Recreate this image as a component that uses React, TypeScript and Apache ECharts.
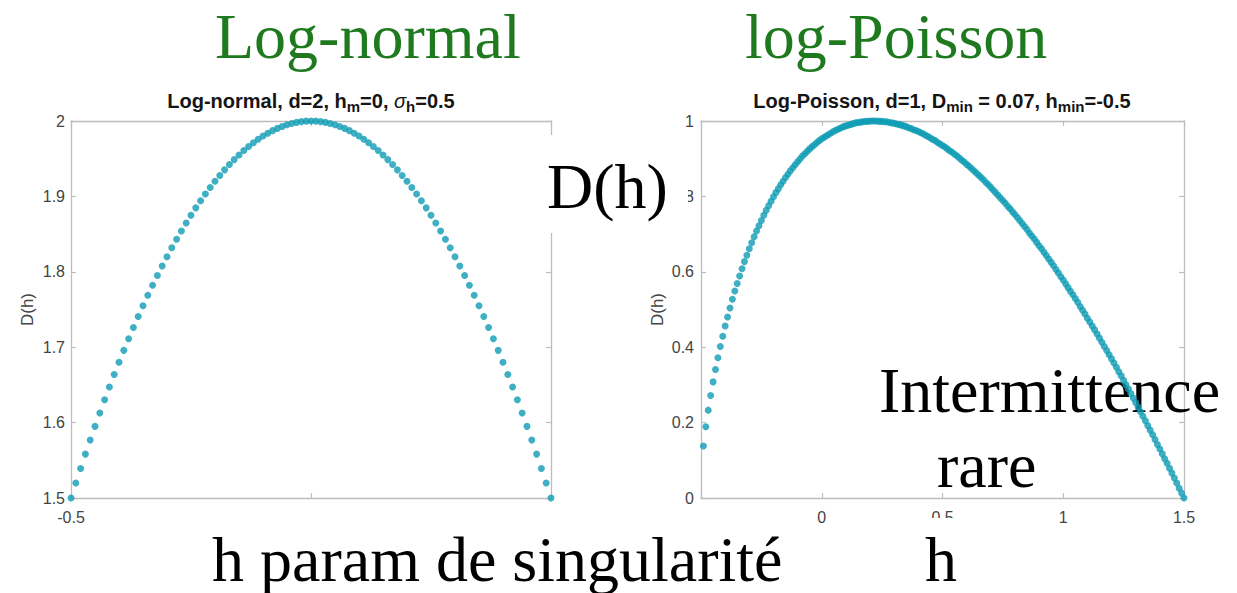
import React, { useEffect, useRef } from "react";
import * as echarts from "echarts";

// Log-normal singularity spectrum, d = 2, h_m = 0, sigma_h = 0.5
const hLogNormal = [
  -0.5, -0.49, -0.48, -0.47, -0.46, -0.45, -0.44, -0.43, -0.42, -0.41,
  -0.4, -0.39, -0.38, -0.37, -0.36, -0.35, -0.34, -0.33, -0.32, -0.31,
  -0.3, -0.29, -0.28, -0.27, -0.26, -0.25, -0.24, -0.23, -0.22, -0.21,
  -0.2, -0.19, -0.18, -0.17, -0.16, -0.15, -0.14, -0.13, -0.12, -0.11,
  -0.1, -0.09, -0.08, -0.07, -0.06, -0.05, -0.04, -0.03, -0.02, -0.01,
  0, 0.01, 0.02, 0.03, 0.04, 0.05, 0.06, 0.07, 0.08, 0.09,
  0.1, 0.11, 0.12, 0.13, 0.14, 0.15, 0.16, 0.17, 0.18, 0.19,
  0.2, 0.21, 0.22, 0.23, 0.24, 0.25, 0.26, 0.27, 0.28, 0.29,
  0.3, 0.31, 0.32, 0.33, 0.34, 0.35, 0.36, 0.37, 0.38, 0.39,
  0.4, 0.41, 0.42, 0.43, 0.44, 0.45, 0.46, 0.47, 0.48, 0.49,
  0.5,
];
const dLogNormal = [
  1.5, 1.5198, 1.5392, 1.5582, 1.5768, 1.595, 1.6128, 1.6302, 1.6472, 1.6638,
  1.68, 1.6958, 1.7112, 1.7262, 1.7408, 1.755, 1.7688, 1.7822, 1.7952, 1.8078,
  1.82, 1.8318, 1.8432, 1.8542, 1.8648, 1.875, 1.8848, 1.8942, 1.9032, 1.9118,
  1.92, 1.9278, 1.9352, 1.9422, 1.9488, 1.955, 1.9608, 1.9662, 1.9712, 1.9758,
  1.98, 1.9838, 1.9872, 1.9902, 1.9928, 1.995, 1.9968, 1.9982, 1.9992, 1.9998,
  2, 1.9998, 1.9992, 1.9982, 1.9968, 1.995, 1.9928, 1.9902, 1.9872, 1.9838,
  1.98, 1.9758, 1.9712, 1.9662, 1.9608, 1.955, 1.9488, 1.9422, 1.9352, 1.9278,
  1.92, 1.9118, 1.9032, 1.8942, 1.8848, 1.875, 1.8648, 1.8542, 1.8432, 1.8318,
  1.82, 1.8078, 1.7952, 1.7822, 1.7688, 1.755, 1.7408, 1.7262, 1.7112, 1.6958,
  1.68, 1.6638, 1.6472, 1.6302, 1.6128, 1.595, 1.5768, 1.5582, 1.5392, 1.5198,
  1.5,
];

// Log-Poisson singularity spectrum, d = 1, D_min = 0.07, h_min = -0.5
const hLogPoisson = [
  -0.49, -0.48, -0.47, -0.46, -0.45, -0.44, -0.43, -0.42, -0.41, -0.4,
  -0.39, -0.38, -0.37, -0.36, -0.35, -0.34, -0.33, -0.32, -0.31, -0.3,
  -0.29, -0.28, -0.27, -0.26, -0.25, -0.24, -0.23, -0.22, -0.21, -0.2,
  -0.19, -0.18, -0.17, -0.16, -0.15, -0.14, -0.13, -0.12, -0.11, -0.1,
  -0.09, -0.08, -0.07, -0.06, -0.05, -0.04, -0.03, -0.02, -0.01, 0,
  0.01, 0.02, 0.03, 0.04, 0.05, 0.06, 0.07, 0.08, 0.09, 0.1,
  0.11, 0.12, 0.13, 0.14, 0.15, 0.16, 0.17, 0.18, 0.19, 0.2,
  0.21, 0.22, 0.23, 0.24, 0.25, 0.26, 0.27, 0.28, 0.29, 0.3,
  0.31, 0.32, 0.33, 0.34, 0.35, 0.36, 0.37, 0.38, 0.39, 0.4,
  0.41, 0.42, 0.43, 0.44, 0.45, 0.46, 0.47, 0.48, 0.49, 0.5,
  0.51, 0.52, 0.53, 0.54, 0.55, 0.56, 0.57, 0.58, 0.59, 0.6,
  0.61, 0.62, 0.63, 0.64, 0.65, 0.66, 0.67, 0.68, 0.69, 0.7,
  0.71, 0.72, 0.73, 0.74, 0.75, 0.76, 0.77, 0.78, 0.79, 0.8,
  0.81, 0.82, 0.83, 0.84, 0.85, 0.86, 0.87, 0.88, 0.89, 0.9,
  0.91, 0.92, 0.93, 0.94, 0.95, 0.96, 0.97, 0.98, 0.99, 1,
  1.01, 1.02, 1.03, 1.04, 1.05, 1.06, 1.07, 1.08, 1.09, 1.1,
  1.11, 1.12, 1.13, 1.14, 1.15, 1.16, 1.17, 1.18, 1.19, 1.2,
  1.21, 1.22, 1.23, 1.24, 1.25, 1.26, 1.27, 1.28, 1.29, 1.3,
  1.31, 1.32, 1.33, 1.34, 1.35, 1.36, 1.37, 1.38, 1.39, 1.4,
  1.41, 1.42, 1.43, 1.44, 1.45, 1.46, 1.47, 1.48, 1.49, 1.5,
];
const dLogPoisson = [
  0.138, 0.189, 0.233, 0.272, 0.308, 0.341, 0.372, 0.402, 0.429, 0.456,
  0.48, 0.504, 0.527, 0.549, 0.569, 0.589, 0.608, 0.627, 0.644, 0.661,
  0.677, 0.693, 0.708, 0.722, 0.736, 0.75, 0.763, 0.775, 0.787, 0.799,
  0.81, 0.82, 0.831, 0.84, 0.85, 0.859, 0.868, 0.876, 0.884, 0.892,
  0.899, 0.907, 0.913, 0.92, 0.926, 0.932, 0.937, 0.943, 0.948, 0.953,
  0.957, 0.961, 0.965, 0.969, 0.973, 0.976, 0.979, 0.982, 0.985, 0.987,
  0.989, 0.991, 0.993, 0.995, 0.996, 0.997, 0.998, 0.999, 0.999, 1.0,
  1.0, 1.0, 1.0, 0.999, 0.999, 0.998, 0.998, 0.996, 0.995, 0.994,
  0.992, 0.991, 0.989, 0.987, 0.985, 0.982, 0.98, 0.977, 0.975, 0.972,
  0.969, 0.966, 0.962, 0.959, 0.955, 0.951, 0.948, 0.943, 0.939, 0.935,
  0.931, 0.926, 0.921, 0.917, 0.912, 0.907, 0.902, 0.896, 0.891, 0.885,
  0.88, 0.874, 0.868, 0.862, 0.856, 0.85, 0.844, 0.837, 0.831, 0.824,
  0.817, 0.81, 0.803, 0.796, 0.789, 0.782, 0.774, 0.767, 0.759, 0.752,
  0.744, 0.736, 0.728, 0.72, 0.712, 0.703, 0.695, 0.687, 0.678, 0.669,
  0.661, 0.652, 0.643, 0.634, 0.625, 0.616, 0.606, 0.597, 0.587, 0.578,
  0.568, 0.558, 0.548, 0.539, 0.529, 0.519, 0.508, 0.498, 0.488, 0.477,
  0.467, 0.456, 0.446, 0.435, 0.424, 0.413, 0.402, 0.391, 0.38, 0.369,
  0.358, 0.347, 0.335, 0.324, 0.312, 0.3, 0.289, 0.277, 0.265, 0.253,
  0.241, 0.229, 0.217, 0.205, 0.192, 0.18, 0.168, 0.155, 0.142, 0.13,
  0.117, 0.104, 0.092, 0.079, 0.066, 0.053, 0.04, 0.026, 0.013, 0.0,
];

const TEAL = "#0f9cb4";
const AXIS_GRAY = "#bdbdbd";
const LABEL_GRAY = "#444444";
const GREEN = "#1f7a1f";
const SANS = "Liberation Sans";
const SERIF = "Liberation Serif";

function pairs(xs: number[], ys: number[]) {
  return xs.map((x, i) => [x, ys[i]]);
}

function axis(extra: any) {
  const { axisLabel, ...rest } = extra;
  return {
    type: "value",
    splitLine: { show: false },
    axisLine: { show: true, onZero: false, lineStyle: { color: AXIS_GRAY, width: 1.3 } },
    axisTick: { show: true, inside: true, length: 5, lineStyle: { color: AXIS_GRAY, width: 1.2 } },
    axisLabel: {
      color: LABEL_GRAY,
      fontSize: 16,
      fontFamily: SANS,
      ...(axisLabel || {}),
    },
    ...rest,
  };
}

const yName = {
  name: "D(h)",
  nameLocation: "middle",
  nameGap: 35,
  nameTextStyle: { color: LABEL_GRAY, fontSize: 17, fontFamily: SANS },
};

const titleRich = {
  b: { fontSize: 20, fontWeight: "bold", fontFamily: SANS, fill: "#151515", lineHeight: 24 },
  s: { fontSize: 15, fontWeight: "bold", fontFamily: SANS, fill: "#151515", lineHeight: 15, padding: [10, 0, 0, 0] },
  g: { fontSize: 20, fontStyle: "italic", fontFamily: SANS, fill: "#151515", lineHeight: 24 },
};

function bigText(text: string, x: number, y: number, fill: string, z: number) {
  return {
    type: "text",
    x,
    y,
    z,
    style: {
      text,
      fontSize: 64,
      lineHeight: 56,
      fontFamily: SERIF,
      fill,
      verticalAlign: "middle",
      align: "left",
    },
  };
}

function whiteBox(x: number, y: number, width: number, height: number) {
  return { type: "rect", z: 40, shape: { x, y, width, height }, style: { fill: "#ffffff" } };
}

export default function App() {
  const ref = useRef<HTMLDivElement>(null);

  useEffect(() => {
    if (!ref.current) return;
    const chart = echarts.init(ref.current, undefined, { renderer: "svg" });
    const trimNum = (v: number) => String(Math.round(v * 1000) / 1000);

    chart.setOption({
      animation: false,
      backgroundColor: "#ffffff",
      grid: [
        { left: 71, top: 121, width: 480, height: 377 },
        { left: 701, top: 121, width: 483, height: 377 },
      ],
      xAxis: [
        axis({ gridIndex: 0, min: -0.5, max: 0.5, interval: 0.5, position: "bottom", axisLabel: { margin: 11, formatter: trimNum } }),
        axis({ gridIndex: 0, min: -0.5, max: 0.5, interval: 0.5, position: "top", axisLabel: { show: false } }),
        axis({
          gridIndex: 1, min: -0.5, max: 1.5, interval: 0.5, position: "bottom",
          axisLabel: { margin: 11, formatter: (v: number) => (Math.abs(v + 0.5) < 1e-9 ? "" : trimNum(v)) },
        }),
        axis({ gridIndex: 1, min: -0.5, max: 1.5, interval: 0.5, position: "top", axisLabel: { show: false } }),
      ],
      yAxis: [
        axis({ gridIndex: 0, min: 1.5, max: 2, interval: 0.1, position: "left", axisLabel: { margin: 6, formatter: trimNum }, ...yName }),
        axis({ gridIndex: 0, min: 1.5, max: 2, interval: 0.1, position: "right", axisLabel: { show: false } }),
        axis({ gridIndex: 1, min: 0, max: 1, interval: 0.2, position: "left", axisLabel: { margin: 7, formatter: trimNum }, ...yName }),
        axis({ gridIndex: 1, min: 0, max: 1, interval: 0.2, position: "right", axisLabel: { show: false } }),
      ],
      series: [
        {
          type: "scatter",
          xAxisIndex: 0,
          yAxisIndex: 0,
          data: pairs(hLogNormal, dLogNormal),
          symbol: "circle",
          symbolSize: 7,
          clip: false,
          itemStyle: { color: TEAL },
        },
        {
          type: "scatter",
          xAxisIndex: 2,
          yAxisIndex: 2,
          data: pairs(hLogPoisson, dLogPoisson),
          symbol: "circle",
          symbolSize: 7,
          clip: false,
          itemStyle: { color: TEAL },
        },
      ],
      graphic: [
        {
          type: "text",
          x: 311,
          y: 101,
          z: 30,
          style: {
            text: "{b|Log-normal, d=2, h}{s|m}{b|=0, }{g|σ}{s|h}{b|=0.5}",
            rich: titleRich,
            align: "center",
            verticalAlign: "middle",
          },
        },
        {
          type: "text",
          x: 942,
          y: 101,
          z: 30,
          style: {
            text: "{b|Log-Poisson, d=1, D}{s|min}{b| = 0.07, h}{s|min}{b|=-0.5}",
            rich: titleRich,
            align: "center",
            verticalAlign: "middle",
          },
        },
        bigText("Log-normal", 215, 36, GREEN, 45),
        bigText("log-Poisson", 745, 36, GREEN, 45),
        whiteBox(545, 135, 143, 98),
        bigText("D(h)", 547, 186, "#000000", 45),
        bigText("Intermittence", 879, 390, "#000000", 1),
        bigText("rare", 937, 465, "#000000", 1),
        whiteBox(205, 508, 590, 85),
        bigText("h param de singularité", 212, 559, "#000000", 45),
        whiteBox(915, 518, 55, 75),
        bigText("h", 925, 559, "#000000", 45),
      ],
    });

    return () => chart.dispose();
  }, []);

  return (
    <div
      ref={ref}
      style={{ position: "absolute", left: 0, top: 0, width: 1237, height: 593, background: "#ffffff" }}
    />
  );
}
